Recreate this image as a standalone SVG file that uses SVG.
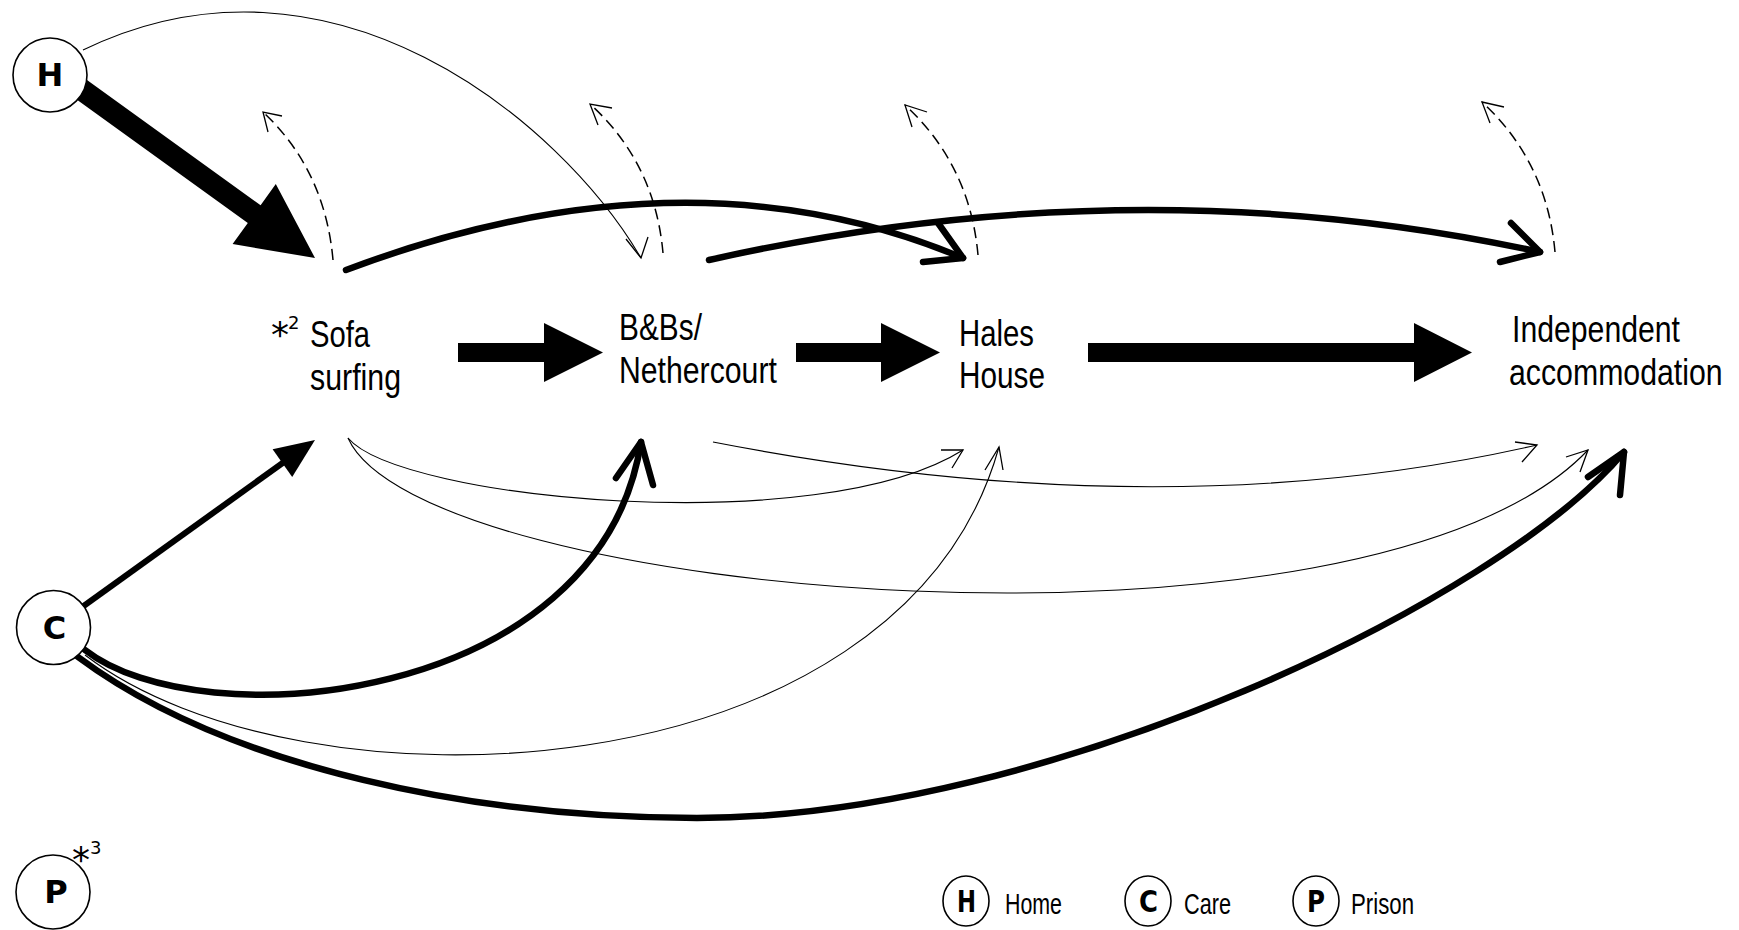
<svg xmlns="http://www.w3.org/2000/svg" width="1739" height="930" viewBox="0 0 1739 930">
<style>
.thick{fill:none;stroke:#000;stroke-width:6.5;stroke-linecap:round;stroke-linejoin:round}
.thin{fill:none;stroke:#000;stroke-width:1.1}
.thinhead{fill:none;stroke:#000;stroke-width:1.3;stroke-linejoin:miter}
.dash{fill:none;stroke:#000;stroke-width:1.5;stroke-dasharray:11 6}
.block{fill:#000;stroke:none}
.lbl{font-family:"Liberation Sans",Arial,sans-serif;font-size:37px;fill:#000}
.leg{font-family:"Liberation Sans",Arial,sans-serif;font-size:29px;fill:#000}
.star{font-family:"DejaVu Sans",sans-serif;font-size:36px;fill:#000}
.sup{font-family:"DejaVu Sans",sans-serif;font-size:18px}
.circ{fill:#fff;stroke:#000;stroke-width:1.6}
.letter{font-family:"DejaVu Sans",sans-serif;font-weight:bold;font-size:32px;text-anchor:middle;fill:#000}
.lletter{font-family:"DejaVu Sans",sans-serif;font-weight:bold;font-size:30px;fill:#000}
</style>
<rect width="1739" height="930" fill="#fff"/>
<g id="connectors">
  <!-- H to Sofa surfing (heavy) -->
  <polygon class="block" points="81.8,76.3 260.6,205.2 275.8,184.1 315,258 232.6,244.1 247.8,223 69,94.1"/>
  <!-- H to B&Bs thin -->
  <path class="thin" d="M83,50 C330,-70 560,120 641,258"/>
  <polyline class="thinhead" points="626,239 641,258 648,237"/>
  <!-- block arrows along main row -->
  <polygon class="block" points="458,343 544,343 544,323 603,352.5 544,382 544,362 458,362"/>
  <polygon class="block" points="796,343 881,343 881,323 940,352.5 881,382 881,362 796,362"/>
  <polygon class="block" points="1088,343 1414,343 1414,323 1472,352.5 1414,382 1414,362 1088,362"/>
  <!-- upper thick arcs -->
  <path class="thick" d="M346,270 Q686,142 963,258"/>
  <polyline class="thick" points="938,223 963,258 923,262"/>
  <path class="thick" d="M709,260 Q1136,164 1540,252"/>
  <polyline class="thick" points="1511,223 1540,252 1500,262"/>
  <!-- dashed exits -->
  <path class="dash" d="M333,260 Q325,170 263,112"/>
  <polyline class="thinhead" points="282,116 263,112 268,132"/>
  <path class="dash" d="M663,253 Q655,163 590,104"/>
  <polyline class="thinhead" points="612,108 590,104 598,125"/>
  <path class="dash" d="M978,255 Q970,165 905,105"/>
  <polyline class="thinhead" points="927,112 905,105 912,127"/>
  <path class="dash" d="M1555,252 Q1547,162 1482,102"/>
  <polyline class="thinhead" points="1504,107 1482,102 1490,123"/>
  <!-- lower thin arcs -->
  <path class="thin" d="M348,438 C400,500 820,540 963,450"/>
  <polyline class="thinhead" points="941,450 963,450 952,468"/>
  <path class="thin" d="M348,438 C420,600 1370,680 1588,450"/>
  <polyline class="thinhead" points="1566,457 1588,450 1580,472"/>
  <path class="thin" d="M713,442 Q1165,530 1537,445"/>
  <polyline class="thinhead" points="1515,442 1537,445 1522,462"/>
  <path class="thin" d="M85,655 C300,820 900,800 999,447"/>
  <polyline class="thinhead" points="985,470 999,447 1003,470"/>
  <!-- C to Sofa -->
  <line x1="53" y1="628" x2="284" y2="462" stroke="#000" stroke-width="6"/>
  <polygon class="block" points="315,440 292.2,477 272.6,449.2"/>
  <!-- C thick arcs -->
  <path class="thick" d="M85,650 C200,740 600,705 641,442"/>
  <polyline class="thick" points="616,478 641,442 653,485"/>
  <path class="thick" d="M78,657 C230,770 480,818 697,818 C1047,818 1500,600 1624,452"/>
  <polyline class="thick" points="1588,477 1624,452 1620,495"/>
</g>
<g id="node-H">
  <circle class="circ" cx="50" cy="75" r="37"/>
  <text class="letter" x="50" y="86">H</text>
</g>
<g id="node-C">
  <circle class="circ" cx="53.5" cy="627.5" r="37"/>
  <text class="letter" x="54.5" y="639">C</text>
</g>
<g id="node-P">
  <circle class="circ" cx="53" cy="892" r="37"/>
  <text class="letter" x="56" y="903">P</text>
  <text class="star" x="72" y="872">*<tspan class="sup" x="90" y="854">3</tspan></text>
</g>
<g id="node-sofa">
  <text class="star" x="271" y="347">*<tspan class="sup" x="288" y="329">2</tspan></text>
  <text class="lbl" transform="translate(310,347) scale(0.79,1)">Sofa</text>
  <text class="lbl" transform="translate(310,390) scale(0.82,1)">surfing</text>
</g>
<g id="node-bnb">
  <text class="lbl" transform="translate(619,340) scale(0.807,1)">B&amp;Bs/</text>
  <text class="lbl" transform="translate(619,383) scale(0.817,1)">Nethercourt</text>
</g>
<g id="node-hales">
  <text class="lbl" transform="translate(959,346) scale(0.793,1)">Hales</text>
  <text class="lbl" transform="translate(959,388) scale(0.804,1)">House</text>
</g>
<g id="node-independent">
  <text class="lbl" transform="translate(1512,342) scale(0.817,1)">Independent</text>
  <text class="lbl" transform="translate(1509,385) scale(0.818,1)">accommodation</text>
</g>
<g id="legend">
  <ellipse class="circ" cx="966" cy="901" rx="23" ry="25"/>
  <text class="lletter" x="957" y="912" textLength="19" lengthAdjust="spacingAndGlyphs">H</text>
  <text class="leg" x="1005" y="914" textLength="57" lengthAdjust="spacingAndGlyphs">Home</text>
  <ellipse class="circ" cx="1148" cy="901" rx="23" ry="25"/>
  <text class="lletter" x="1139" y="912" textLength="19" lengthAdjust="spacingAndGlyphs">C</text>
  <text class="leg" x="1184" y="914" textLength="47" lengthAdjust="spacingAndGlyphs">Care</text>
  <ellipse class="circ" cx="1316" cy="901" rx="23" ry="25"/>
  <text class="lletter" x="1307" y="912" textLength="18" lengthAdjust="spacingAndGlyphs">P</text>
  <text class="leg" x="1351" y="914" textLength="63" lengthAdjust="spacingAndGlyphs">Prison</text>
</g>
</svg>
